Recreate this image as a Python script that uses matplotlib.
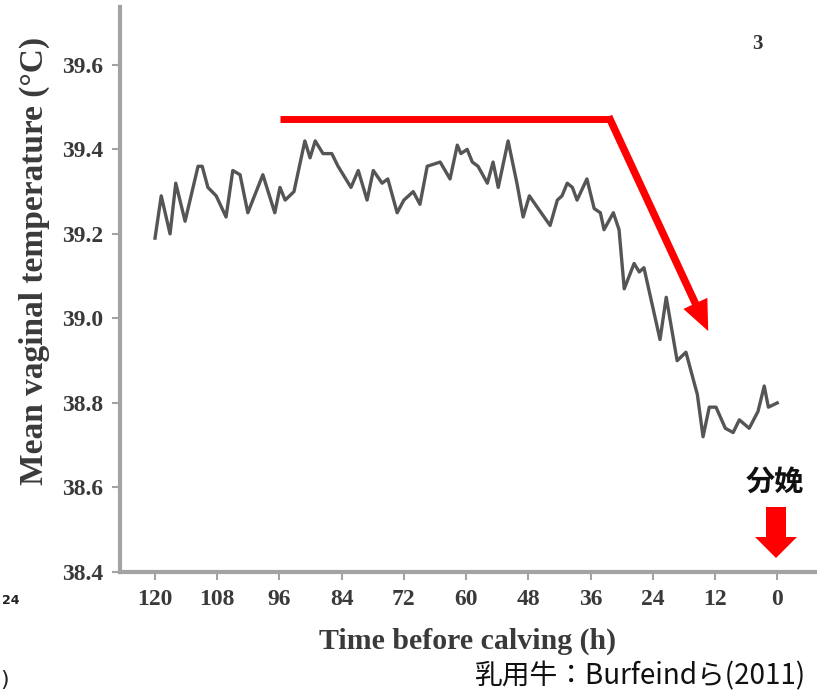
import matplotlib
matplotlib.use("Agg")
from matplotlib import pyplot as plt
from matplotlib.patches import Polygon

# hours before calving and mean vaginal temperature
hours = [120, 118.8, 117.1, 116.0, 114.2, 111.7, 110.9, 109.8, 108.2, 106.3,
         105.0, 103.6, 102.1, 99.2, 96.9, 95.9, 94.9, 93.2, 91.1, 90.1,
         89.1, 87.6, 85.9, 84.7, 82.2, 80.8, 79.1, 77.9, 76.2, 75.1,
         73.3, 72.0, 70.2, 68.9, 67.5, 65.0, 63.1, 61.7, 61.0, 59.8,
         58.8, 57.7, 55.9, 54.8, 53.8, 51.9, 50.2, 49.0, 47.8, 46.1,
         43.8, 42.4, 41.5, 40.5, 39.5, 38.6, 36.7, 35.3, 34.1, 33.4,
         31.6, 30.5, 29.5, 27.6, 26.6, 25.7, 22.6, 21.4, 19.3, 17.6,
         15.4, 14.3, 13.1, 11.8, 10.0, 8.5, 7.3, 5.4, 3.7, 2.5, 1.7, 0]
temps = [39.19, 39.29, 39.20, 39.32, 39.23, 39.36, 39.36, 39.31, 39.29, 39.24,
         39.35, 39.34, 39.25, 39.34, 39.25, 39.31, 39.28, 39.30, 39.42, 39.38,
         39.42, 39.39, 39.39, 39.36, 39.31, 39.35, 39.28, 39.35, 39.32, 39.33,
         39.25, 39.28, 39.30, 39.27, 39.36, 39.37, 39.33, 39.41, 39.39, 39.40,
         39.37, 39.36, 39.32, 39.37, 39.31, 39.42, 39.32, 39.24, 39.29, 39.26,
         39.22, 39.28, 39.29, 39.32, 39.31, 39.28, 39.33, 39.26, 39.25, 39.21,
         39.25, 39.21, 39.07, 39.13, 39.11, 39.12, 38.95, 39.05, 38.90, 38.92,
         38.82, 38.72, 38.79, 38.79, 38.74, 38.73, 38.76, 38.74, 38.78, 38.84,
         38.79, 38.80]

xticks = [120, 108, 96, 84, 72, 60, 48, 36, 24, 12, 0]
yticks = [38.4, 38.6, 38.8, 39.0, 39.2, 39.4, 39.6]

plt.rcParams['font.family'] = ['Liberation Serif', 'DejaVu Serif']
axis_gray = "#a3a3a3"
txt_gray = "#3a3a3a"

fig = plt.figure(figsize=(8.17, 6.95), dpi=100)
ax = fig.add_axes([0.1469, 0.177, 0.8507, 0.813])

ax.plot(hours, temps, color="#555555", lw=2.4, solid_joinstyle="round")

ax.set_xlim(126.75, -7.3)
ax.set_ylim(38.4, 39.737)
ax.set_xticks(xticks)
ax.set_xticklabels([str(t) for t in xticks], fontweight="bold", fontsize=17,
                   color=txt_gray)
ax.set_yticks(yticks)
ax.set_yticklabels([f"{t:.1f}" for t in yticks], fontweight="bold",
                   fontsize=17, color=txt_gray)
ax.tick_params(direction="out", length=6, width=1.5, color=axis_gray, pad=6)

for side in ["top", "right"]:
    ax.spines[side].set_visible(False)
for side in ["left", "bottom"]:
    ax.spines[side].set_color(axis_gray)
    ax.spines[side].set_linewidth(3)

ax.set_xlabel("Time before calving (h)", fontweight="bold", fontsize=21.5,
              color=txt_gray, labelpad=13)
ax.set_ylabel("Mean vaginal temperature (°C)", fontweight="bold",
              fontsize=24, color=txt_gray)
ax.yaxis.set_label_coords(-0.101, 0.55)

ax.text(3.85, 39.65, "3", fontweight="bold", fontsize=15, color="#333333",
        ha="center", va="center")

# red trend annotation
ax.plot([95.9, 32.2], [39.472, 39.472], color="#ff0000", lw=5,
        solid_capstyle="butt", clip_on=False)
ax.annotate("", xy=(13.3, 38.97), xytext=(32.5, 39.478),
            arrowprops=dict(arrowstyle="simple,head_length=1.1,head_width=0.95,tail_width=0.27",
                            mutation_scale=20, color="#ff0000", lw=0,
                            shrinkA=0, shrinkB=0))

# calving marker
fig.text(775 / 817, 1 - 482 / 695, "分娩", fontfamily="Noto Sans CJK JP",
         fontweight="bold", fontsize=21, ha="center", va="center",
         color="#111111")
fig.patches.append(Polygon(
    [(766 / 817, 1 - 507 / 695), (786 / 817, 1 - 507 / 695),
     (786 / 817, 1 - 537 / 695), (797 / 817, 1 - 537 / 695),
     (776 / 817, 1 - 558 / 695), (755 / 817, 1 - 537 / 695),
     (766 / 817, 1 - 537 / 695)],
    closed=True, transform=fig.transFigure, color="#ff0000", lw=0))

fig.text(806 / 817, 1 - 676 / 695, "乳用牛：Burfeindら(2011)",
         fontfamily=["Noto Sans CJK JP", "DejaVu Sans"], fontsize=20,
         ha="right", va="center", color="#111111")

# stray fragments of the neighbouring chart at the left edge
fig.text(2 / 817, 1 - 600 / 695, "24", fontfamily="DejaVu Sans", fontsize=9,
         fontweight="bold", ha="left", va="center", color="#222222")
fig.text(0, 1 - 680 / 695, ")", fontfamily="DejaVu Sans", fontsize=16,
         ha="left", va="center", color="#222222")

fig.savefig("out.png", dpi=100)
